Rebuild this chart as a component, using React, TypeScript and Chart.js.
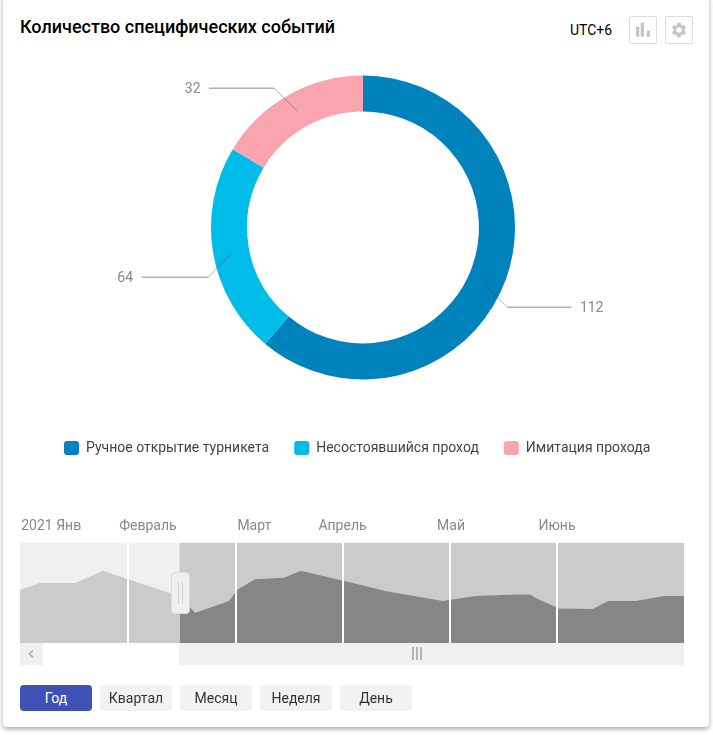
import React, { useEffect, useRef } from "react";
import { Chart, registerables } from "chart.js";

Chart.register(...registerables);

// Doughnut: the printed values, and the arc sizes (the arcs are not proportional to the printed values).
const eventNames = ["Ручное открытие турникета", "Несостоявшийся проход", "Имитация прохода"];
const printedValues = [112, 64, 32];
const arcDegrees = [220, 81, 59];
const eventColors = ["#0083bd", "#00bce8", "#faa4b0"];

// Navigator: x in months since the start of the range, y in percent of the track height.
const trendMonths = [0, 0.186, 0.512, 0.772, 0.995, 1.395, 1.58, 1.628, 1.944, 2.0, 2.019, 2.186, 2.456, 2.614, 2.995, 3.098, 3.395, 3.935, 4.019, 4.242, 4.614, 4.744, 4.781, 4.837, 4.986, 5.005, 5.33, 5.47, 5.73, 5.99, 6.177];
const trendValues = [53, 60, 60, 72, 64, 50, 36, 30, 42, 50, 53, 63.5, 65, 72, 62.5, 60, 52, 42, 43.5, 47, 48.5, 48.5, 46, 43, 36, 34.5, 34, 42, 42, 47, 47];
const monthGridValues = [1.005, 2.005, 3.005, 4.0, 5.0];
const monthLabels = ["2021 Янв", "Февраль", "Март", "Апрель", "Май", "Июнь"];
const monthLabelValues = [0.29, 1.19, 2.18, 3.0, 4.01, 4.995];
const rangeEnd = 6.177;
const selectionEnd = 1.484;
const periodButtons = ["Год", "Квартал", "Месяц", "Неделя", "День"];

const FONT = "Roboto, sans-serif";

const leaderPlugin = {
  id: "leaders",
  afterDatasetsDraw(chart: any) {
    const { ctx } = chart;
    const anchorShift = [0.023, -0.02, 0];
    const elbowRise = [23, 23.5, 22.5];
    const runLength = [64, 67, 65];
    chart.getDatasetMeta(0).data.forEach((arc: any, i: number) => {
      const p = arc.getProps(["x", "y", "startAngle", "endAngle", "innerRadius", "outerRadius"], true);
      const span = p.endAngle - p.startAngle;
      const a = p.startAngle + span * (0.5 + anchorShift[i]);
      const r = (p.innerRadius + p.outerRadius) / 2;
      const ax = p.x + Math.cos(a) * r;
      const ay = p.y + Math.sin(a) * r;
      const dirX = Math.cos(a) >= 0 ? 1 : -1;
      const dirY = Math.sin(a) >= 0 ? 1 : -1;
      const ex = ax + dirX * 23;
      const ey = Math.round(ay + dirY * elbowRise[i]);
      const hx = ex + dirX * runLength[i];
      ctx.save();
      ctx.strokeStyle = "rgba(70,70,70,0.42)";
      ctx.lineWidth = 1;
      ctx.beginPath();
      ctx.moveTo(ax, ay);
      ctx.lineTo(ex, ey);
      ctx.stroke();
      ctx.lineWidth = 1.5;
      ctx.beginPath();
      ctx.moveTo(ex, ey + 0.25);
      ctx.lineTo(hx, ey + 0.25);
      ctx.stroke();
      ctx.fillStyle = "#888888";
      ctx.font = `14px ${FONT}`;
      ctx.textBaseline = "middle";
      ctx.textAlign = dirX > 0 ? "left" : "right";
      ctx.fillText(String(printedValues[i]), hx + dirX * 8.5, ey + 1);
      ctx.restore();
    });
  },
};

const trackPlugin = {
  id: "track",
  beforeDatasetsDraw(chart: any) {
    const { ctx, chartArea: c, scales } = chart;
    const split = scales.x.getPixelForValue(selectionEnd);
    ctx.save();
    ctx.fillStyle = "#f0f0f0";
    ctx.fillRect(c.left, c.top, split - c.left, c.bottom - c.top);
    ctx.fillStyle = "#cbcbcb";
    ctx.fillRect(split, c.top, c.right - split, c.bottom - c.top);
    ctx.restore();
  },
};

const box = (l: number, t: number, w: number, h: number): React.CSSProperties => ({
  position: "absolute", left: l, top: t, width: w, height: h, boxSizing: "border-box",
});

export default function App() {
  const donutRef = useRef<HTMLCanvasElement>(null);
  const trackRef = useRef<HTMLCanvasElement>(null);

  useEffect(() => {
    const donut = new Chart(donutRef.current!, {
      type: "doughnut",
      data: {
        labels: eventNames,
        datasets: [{ data: arcDegrees, backgroundColor: eventColors, borderWidth: 0, radius: 152, cutout: "76.3%" } as any],
      },
      options: {
        animation: false,
        responsive: false,
        plugins: {
          tooltip: { enabled: false },
          legend: {
            position: "bottom",
            align: "start",
            labels: {
              boxWidth: 15, boxHeight: 14, padding: 25, color: "#444444",
              useBorderRadius: true, borderRadius: 3,
              font: { family: FONT, size: 14 },
            },
          },
        },
      } as any,
      plugins: [leaderPlugin],
    });

    const track = new Chart(trackRef.current!, {
      type: "line",
      data: {
        datasets: [{
          data: trendMonths.map((x, i) => ({ x, y: trendValues[i] })),
          fill: "origin",
          borderWidth: 0,
          pointRadius: 0,
          tension: 0,
          backgroundColor: (c: any) => {
            const { chart } = c;
            if (!chart.chartArea || !chart.scales.x) return "#868686";
            const { left, right } = chart.chartArea;
            const g = chart.ctx.createLinearGradient(left, 0, right, 0);
            const s = selectionEnd / rangeEnd;
            g.addColorStop(0, "#cbcbcb");
            g.addColorStop(s, "#cbcbcb");
            g.addColorStop(s, "#868686");
            g.addColorStop(1, "#868686");
            return g;
          },
        } as any],
      },
      options: {
        animation: false,
        responsive: false,
        layout: { padding: { left: 20, right: 29, top: 5, bottom: 0 } },
        plugins: { legend: { display: false }, tooltip: { enabled: false } },
        scales: {
          x: {
            type: "linear", min: 0, max: rangeEnd, position: "bottom",
            afterBuildTicks: (s: any) => { s.ticks = monthGridValues.map((value) => ({ value })); },
            ticks: { display: false },
            grid: { color: "#ffffff", lineWidth: 2, drawTicks: false, z: 1 },
            border: { display: false },
          },
          months: {
            type: "linear", min: 0, max: rangeEnd, position: "top",
            afterBuildTicks: (s: any) => { s.ticks = monthLabelValues.map((value) => ({ value })); },
            ticks: {
              autoSkip: false, maxRotation: 0, padding: 8, color: "#888888",
              font: { family: FONT, size: 14 },
              callback: (_v: any, i: number) => monthLabels[i],
            },
            grid: { display: false, drawTicks: false },
            border: { display: false },
          },
          y: { min: 0, max: 100, display: false },
        },
      } as any,
      plugins: [trackPlugin],
    });

    return () => { donut.destroy(); track.destroy(); };
  }, []);

  return (
    <div style={{ position: "fixed", left: 0, top: 0, width: 713, height: 735, background: "#fff", overflow: "hidden", fontFamily: FONT }}>
      <div style={{ ...box(3, -4, 706, 731), background: "#fff", borderRadius: 4, boxShadow: "0 2px 5px rgba(0,0,0,0.35)" }} />
      <div style={{ position: "absolute", left: 20, top: 16, fontSize: 18, fontWeight: 500, color: "#000", lineHeight: "22px", whiteSpace: "nowrap" }}>
        Количество специфических событий
      </div>
      <div style={{ position: "absolute", left: 570, top: 21, fontSize: 14, color: "#000", lineHeight: "18px" }}>UTC+6</div>
      <div style={{ ...box(629, 16, 28, 28), border: "1px solid #dddddd", borderRadius: 2 }}>
        <svg width="26" height="26" viewBox="0 0 26 26">
          <rect x="6" y="9.7" width="3.3" height="10" fill="#c4c4c4" />
          <rect x="10.7" y="5.7" width="3.3" height="14" fill="#c4c4c4" />
          <rect x="16.7" y="13.7" width="3.3" height="6" fill="#c4c4c4" />
        </svg>
      </div>
      <div style={{ ...box(665, 16, 28, 28), border: "1px solid #dddddd", borderRadius: 2 }}>
        <svg style={{ position: "absolute", left: 4, top: 4 }} width="18" height="18" viewBox="0 0 24 24">
          <path fill="#c4c4c4" d="M19.14 12.94c.04-.3.06-.61.06-.94s-.02-.64-.07-.94l2.03-1.58a.49.49 0 0 0 .12-.61l-1.92-3.32a.49.49 0 0 0-.59-.22l-2.39.96c-.5-.38-1.03-.7-1.62-.94l-.36-2.54a.48.48 0 0 0-.48-.41h-3.84a.48.48 0 0 0-.47.41l-.36 2.54c-.59.24-1.13.57-1.62.94l-2.39-.96a.48.48 0 0 0-.59.22L2.74 8.87a.48.48 0 0 0 .12.61l2.03 1.58c-.05.3-.07.62-.07.94s.02.64.07.94l-2.03 1.58a.49.49 0 0 0-.12.61l1.92 3.32c.12.22.37.29.59.22l2.39-.96c.5.38 1.03.7 1.62.94l.36 2.54c.05.24.24.41.48.41h3.84c.24 0 .44-.17.47-.41l.36-2.54c.59-.24 1.13-.56 1.62-.94l2.39.96c.22.08.47 0 .59-.22l1.92-3.32a.48.48 0 0 0-.12-.61l-2.01-1.58zM12 15.6A3.6 3.6 0 1 1 12 8.4a3.6 3.6 0 0 1 0 7.2z" />
        </svg>
      </div>

      <canvas ref={donutRef} width={648} height={426} style={{ position: "absolute", left: 39, top: 39, display: "block" }} />
      <canvas ref={trackRef} width={713} height={138} style={{ position: "absolute", left: 0, top: 505, display: "block" }} />

      <div style={{ ...box(171, 572, 19, 42), background: "#efefef", border: "1px solid #dcdcdc", borderRadius: 4 }}>
        <div style={{ ...box(6, 9, 1, 22), background: "#d4d4d4" }} />
        <div style={{ ...box(10, 9, 1, 22), background: "#d4d4d4" }} />
      </div>

      <div style={{ ...box(20, 643, 664, 22), background: "#f0f0f0" }}>
        <div style={{ ...box(23, 0, 136, 22), background: "#fff" }} />
        <svg style={{ position: "absolute", left: 7, top: 6 }} width="8" height="10" viewBox="0 0 8 10">
          <path d="M6 1.5 L2.5 5 L6 8.5" fill="none" stroke="#b5b5b5" strokeWidth="1.8" />
        </svg>
        <div style={{ ...box(392, 4, 2, 13), background: "#b5b5b5" }} />
        <div style={{ ...box(396, 4, 2, 13), background: "#b5b5b5" }} />
        <div style={{ ...box(400, 4, 2, 13), background: "#b5b5b5" }} />
      </div>

      {periodButtons.map((label, i) => (
        <div key={label} style={{
          ...box(20 + 80 * i, 685, 72, 26), borderRadius: 4,
          background: i === 0 ? "#3f51b5" : "#f2f2f2", color: i === 0 ? "#fff" : "#333",
          fontSize: 14, lineHeight: "26px", textAlign: "center",
        }}>{label}</div>
      ))}
    </div>
  );
}
